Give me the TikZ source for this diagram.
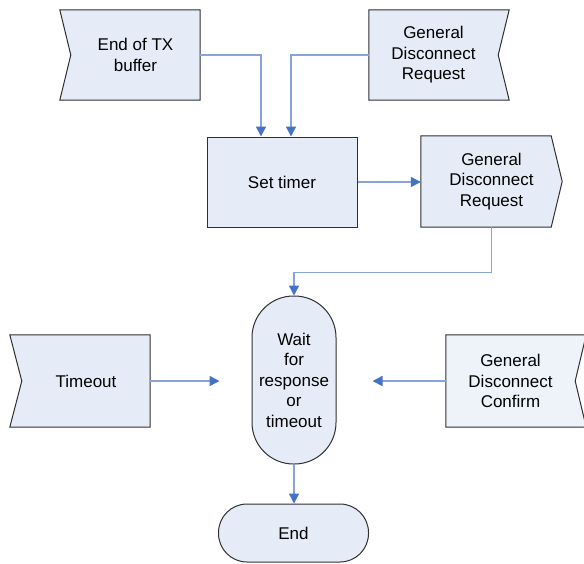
\documentclass[tikz,border=0pt]{standalone}
\usepackage{fontspec}
\setmainfont{Liberation Sans}
\usetikzlibrary{arrows.meta,backgrounds}
\definecolor{boxfill}{HTML}{E6ECF7}
\definecolor{boxfillb}{HTML}{EEF2F9}
\definecolor{boxline}{HTML}{303030}
\definecolor{connc}{HTML}{86A4DA}
\definecolor{tipc}{HTML}{4472C4}
\begin{document}
\begin{tikzpicture}[x=1pt,y=-1pt,
  font=\fontsize{17}{20.5}\selectfont,
  lbl/.style={align=center, inner sep=0pt, draw=none, rectangle},
  shp/.style={draw=boxline, fill=boxfill, line width=1pt, line join=miter},
  conn/.style={draw=connc, line width=1.4pt, -{Triangle[length=10pt,width=10pt,color=tipc]}}]
\useasboundingbox (0,0) rectangle (584,563);

% nodes (text frames)
\node[lbl, minimum width=129pt, minimum height=90pt] (tx) at (135.5,55) {End of TX\\buffer};
\node[lbl, minimum width=129pt, minimum height=90pt] (g1) at (433.5,55) {General\\Disconnect\\Request};
\node[shp, lbl, draw=boxline, minimum width=150pt, minimum height=90pt] (st) at (282,182) {Set timer};
\node[lbl, minimum width=141pt, minimum height=91pt] (g2) at (491.5,181.5) {General\\Disconnect\\Request};
\node[shp, lbl, draw=boxline, minimum width=84pt, minimum height=168pt, rounded corners=41.5pt] (wait) at (294,380) {Wait\\for\\response\\or\\timeout};
\node[lbl, minimum width=128pt, minimum height=92pt] (to) at (86,381) {Timeout};
\node[lbl, minimum width=129pt, minimum height=92pt] (cf) at (510.5,381) {General\\Disconnect\\Confirm};
\node[shp, lbl, draw=boxline, minimum width=150pt, minimum height=58pt, rounded corners=28.5pt] (end) at (293.5,533) {End};

% outlines of signal shapes
\begin{scope}[on background layer]
\draw[shp] ([xshift=-11pt]tx.north west) -- (tx.north east) -- (tx.south east)
  -- ([xshift=-11pt]tx.south west) -- (tx.west) -- cycle;
\draw[shp] (g1.north west) -- ([xshift=11pt]g1.north east) -- (g1.east)
  -- ([xshift=11pt]g1.south east) -- (g1.south west) -- cycle;
\draw[shp] (g2.north west) -- ([xshift=-11pt]g2.north east) -- (g2.east)
  -- ([xshift=-11pt]g2.south east) -- (g2.south west) -- cycle;
\draw[shp] ([xshift=-12pt]to.north west) -- (to.north east) -- (to.south east)
  -- ([xshift=-12pt]to.south west) -- (to.west) -- cycle;
\draw[shp, fill=boxfillb] (cf.north west) -- ([xshift=11pt]cf.north east) -- (cf.east)
  -- ([xshift=11pt]cf.south east) -- (cf.south west) -- cycle;
\end{scope}

% free ends
\coordinate (tin) at ([xshift=-32pt]wait.west);
\coordinate (cin) at ([xshift=36pt]wait.east);

% connectors
\draw[conn] (tx.east) -| ([xshift=-21pt]st.north);
\draw[conn] (g1.west) -| ([xshift=9pt]st.north);
\draw[conn] (st.east) -- (st.east -| g2.west);
\draw[conn] (g2.south) -- ++(0,45) -| (wait.north);
\draw[conn] (to.east) -- (to.east -| tin);
\draw[conn] (cf.west) -- (cf.west -| cin);
\draw[conn] (wait.south) -- (wait.south |- end.north);
\end{tikzpicture}
\end{document}
